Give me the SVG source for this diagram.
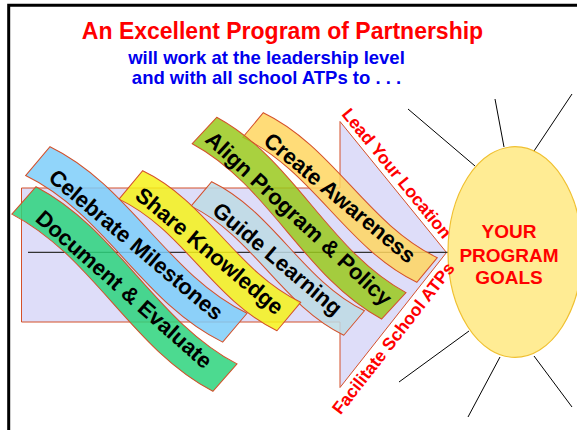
<svg xmlns="http://www.w3.org/2000/svg" width="577" height="430" viewBox="0 0 577 430">
<style>
.frame{fill:none;stroke:#000;stroke-width:3}
.arrow{fill:#DEDDF9;stroke:#D4502A;stroke-width:1}
.axis{stroke:#333;stroke-width:1.2}
.ray{stroke:#000;stroke-width:1}
.ban{stroke:#D4502A;stroke-width:1;fill-opacity:0.85}
.bt{font-family:"Liberation Sans",Arial,sans-serif;font-weight:bold;font-size:22px;fill:#000;text-anchor:middle}
.title{font-family:"Liberation Sans",Arial,sans-serif;font-weight:bold;text-anchor:middle}
.side{font-family:"Liberation Sans",Arial,sans-serif;font-weight:bold;font-size:17.5px;fill:#FF0000;text-anchor:middle}
.goal{font-family:"Liberation Sans",Arial,sans-serif;font-weight:bold;font-size:19px;fill:#FF0000;text-anchor:middle}
</style>
<rect width="577" height="430" fill="#fff"/>
<path class="frame" d="M8.7,432 V5.3 H580"/>
<g id="title">
<text class="title" x="282.5" y="39" font-size="23" fill="#FF0000">An Excellent Program of Partnership</text>
<text class="title" x="266.5" y="64" font-size="18.5" fill="#0000EE">will work at the leadership level</text>
<text class="title" x="266.5" y="84" font-size="18.5" fill="#0000EE">and with all school ATPs to . . .</text>
</g>
<g id="arrow">
<polygon class="arrow" points="21.5,188 340,188 340,121.5 446.5,252.5 340,387.5 340,322 21.5,322"/>
</g>
<g id="connectors">
<line class="axis" x1="28" y1="252.3" x2="452" y2="252.3"/>
<line class="ray" x1="408" y1="109" x2="475" y2="166"/>
<line class="ray" x1="495" y1="99" x2="504" y2="147"/>
<line class="ray" x1="572" y1="94" x2="534" y2="151"/>
<line class="ray" x1="469" y1="331" x2="399" y2="382"/>
<line class="ray" x1="500" y1="357" x2="468" y2="417"/>
<line class="ray" x1="534" y1="356" x2="572" y2="407"/>
</g>
<g id="goals">
<ellipse cx="515" cy="252" rx="67" ry="105.3" fill="#FFEC94" stroke="#F0C030" stroke-width="1.2"/>
<text class="goal" x="509" y="238">YOUR</text>
<text class="goal" x="509" y="262">PROGRAM</text>
<text class="goal" x="509" y="284">GOALS</text>
</g>
<g id="lead-location">
<text class="side" transform="translate(396.7,173.3) rotate(50.8)" y="6">Lead Your Location</text>
</g>
<g id="facilitate">
<text class="side" transform="translate(393.3,338.3) rotate(-52)" y="6">Facilitate School ATPs</text>
</g>
<g id="create-awareness" transform="translate(263.3,112.7) rotate(39.8)">
<path class="ban" fill="#FFD660" d="M0,0 C75.5,-19 151,19 226.5,0 L226.5,32 C151,51 75.5,13 0,32Z"/>
<text class="bt" x="113.25" y="23.9">Create Awareness</text>
</g>
<g id="align-program" transform="translate(216.7,117.3) rotate(42.8)">
<path class="ban" fill="#9AC91D" d="M0,0 C86,-22 172,22 258,0 L258,36 C172,58 86,14 0,36Z"/>
<text class="bt" x="129" y="25.9">Align Program &amp; Policy</text>
</g>
<g id="guide-learning" transform="translate(211.7,181.7) rotate(40.2)">
<path class="ban" fill="#BDDAE4" d="M0,0 C66.7,-17 133.3,17 200,0 L200,32 C133.3,49 66.7,15 0,32Z"/>
<text class="bt" x="100" y="23.9">Guide Learning</text>
</g>
<g id="share-knowledge" transform="translate(142.7,170.7) rotate(39.8)">
<path class="ban" fill="#F6F21A" d="M0,0 C68.5,-17.5 137.1,17.5 205.6,0 L205.6,37 C137.1,54.5 68.5,19.5 0,37Z"/>
<text class="bt" x="102.8" y="26.4">Share Knowledge</text>
</g>
<g id="celebrate-milestones" transform="translate(50,146.7) rotate(40.2)">
<path class="ban" fill="#7ECEF9" d="M0,0 C86,-22 172,22 258,0 L258,37.8 C172,59.8 86,15.8 0,37.8Z"/>
<text class="bt" x="129" y="26.8">Celebrate Milestones</text>
</g>
<g id="document-evaluate" transform="translate(36,186.7) rotate(41.4)">
<path class="ban" fill="#2DD37C" d="M0,0 C89.3,-22 178.7,22 268,0 L268,36.5 C178.7,58.5 89.3,14.5 0,36.5Z"/>
<text class="bt" x="134" y="26.2">Document &amp; Evaluate</text>
</g>
</svg>
